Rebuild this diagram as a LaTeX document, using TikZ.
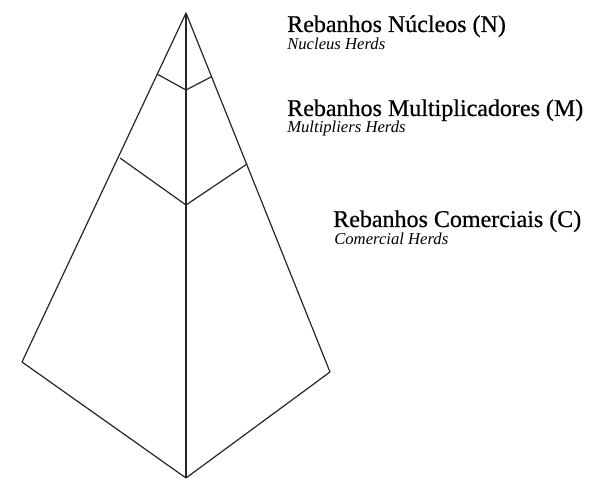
\documentclass[tikz,border=0pt]{standalone}
\usepackage{fontspec}
\setmainfont{Liberation Serif}
\newfontfamily\herdfont[FakeBold=0.6]{Liberation Serif}
\usetikzlibrary{positioning}
\tikzset{
  herdline/.style = {
    line width=0.9pt,
    draw=black!85,
    line join=round
  },
  herdtitle/.style = {
    anchor=base west,
    inner sep=0pt,
    text=black,
    font=\herdfont\fontsize{18}{20}\selectfont
  },
  herdsub/.style = {
    anchor=base west,
    inner sep=0pt,
    text=black,
    font=\fontsize{12.5}{14}\selectfont\itshape
  }
}

\begin{document}
\begin{tikzpicture}[x=0.75pt, y=-0.75pt]
  \useasboundingbox (0,0) rectangle (593,481);

  % Pyramid corners
  \coordinate (apex) at (186,13);
  \coordinate (leftcorner) at (22,362);
  \coordinate (rightcorner) at (330,372);
  \coordinate (bottom) at (186,478);

  % Tier breaks on the edges
  \coordinate (nleft) at (157,74);
  \coordinate (nmid) at (186,90);
  \coordinate (nright) at (211,77);
  \coordinate (mleft) at (120,158);
  \coordinate (mmid) at (186,205);
  \coordinate (mright) at (247,164);

  % Outline and axis
  \draw[herdline] (apex) -- (leftcorner) -- (bottom) -- (rightcorner) -- cycle;
  \draw[herdline] (apex) -- (bottom);

  % Tier boundaries
  \draw[herdline] (nleft) -- (nmid) -- (nright);
  \draw[herdline] (mleft) -- (mmid) -- (mright);

  % Labels
  \node[herdtitle] (nucleo) at (287,32) {Rebanhos Núcleos (N)};
  \node[herdsub] (nucleosub) at (287,50) {Nucleus Herds};

  \node[herdtitle] (multi) at (287,116) {Rebanhos Multiplicadores (M)};
  \node[herdsub] (multisub) at (287,133) {Multipliers Herds};

  \node[herdtitle] (comercial) at (333,227) {Rebanhos Comerciais (C)};
  \node[herdsub] (comercialsub) at (334,245) {Comercial Herds};
\end{tikzpicture}
\end{document}
